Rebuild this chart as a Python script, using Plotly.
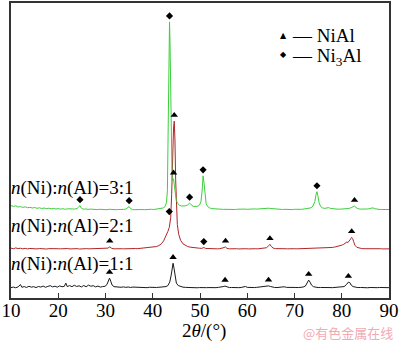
import numpy as np
import plotly.graph_objects as go

# ---- XRD patterns (2theta in degrees, intensity in arbitrary units above each trace's baseline) ----
tt_11 = [10.0, 10.5, 11.0, 11.5, 12.0, 12.3, 12.8, 13.3, 13.8, 14.3, 14.8, 15.3, 15.8, 16.3, 16.8, 17.3,
         17.8, 18.3, 18.8, 19.3, 19.8, 20.3, 20.8, 21.3, 21.6, 21.9, 22.4, 22.9, 23.4, 23.9, 24.4, 24.9,
         25.4, 25.9, 26.4, 26.9, 27.4, 27.9, 28.4, 28.9, 29.4, 29.9, 30.3, 30.6, 30.85, 31.1, 31.4, 31.8,
         32.3, 32.8, 33.3, 33.8, 34.3, 34.8, 35.3, 35.8, 36.3, 36.8, 37.3, 37.8, 38.3, 38.8, 39.3, 39.8,
         40.3, 40.8, 41.3, 41.8, 42.3, 42.8, 43.2, 43.6, 43.9, 44.15, 44.3, 44.5, 44.75, 45.0, 45.4, 45.9,
         46.4, 46.9, 47.4, 47.9, 48.4, 48.9, 49.4, 49.9, 50.4, 50.9, 51.4, 51.9, 52.4, 52.9, 53.4, 53.9,
         54.4, 54.9, 55.3, 55.7, 56.2, 56.7, 57.2, 57.7, 58.2, 58.7, 59.2, 59.6, 60.0, 60.5, 61.0, 61.5,
         62.0, 62.5, 63.0, 63.5, 64.0, 64.5, 64.9, 65.3, 65.8, 66.3, 66.8, 67.3, 67.8, 68.3, 68.8, 69.3,
         69.8, 70.3, 70.8, 71.3, 71.8, 72.3, 72.7, 73.0, 73.3, 73.6, 74.0, 74.5, 75.0, 75.5, 76.0, 76.5,
         77.0, 77.5, 78.0, 78.5, 79.0, 79.5, 80.0, 80.5, 81.0, 81.4, 81.7, 82.0, 82.4, 82.9, 83.4, 84.0,
         84.5, 85.0, 85.5, 86.0, 86.5, 87.0, 87.5, 88.0, 88.5, 89.0, 89.5, 90.0]
int_11 = [0.5, 1.0, 0.3, 1.2, 3.5, 0.8, 1.5, 0.6, 1.8, 0.9, 1.4, 0.5, 1.6, 1.0, 2.0, 0.8,
          1.7, 2.4, 1.2, 1.9, 0.9, 2.2, 1.3, 1.8, 5.0, 1.5, 2.5, 1.4, 2.8, 1.6, 2.3, 1.1,
          2.6, 1.3, 3.0, 1.8, 2.4, 1.2, 2.0, 1.0, 1.5, 1.8, 3.5, 7.5, 10.0, 7.0, 3.0, 1.4,
          1.0, 1.3, 0.8, 1.2, 0.7, 1.1, 0.6, 1.0, 0.9, 0.5, 1.0, 0.6, 0.9, 0.4, 0.8, 0.5,
          0.9, 0.6, 0.8, 1.0, 1.2, 1.5, 2.5, 6.0, 13.0, 22.0, 25.0, 20.0, 10.0, 5.0, 2.5, 1.4,
          0.9, 0.7, 0.5, 0.8, 0.4, 0.6, 0.3, 0.5, 0.3, 0.6, 0.4, 0.5, 0.3, 0.6, 0.4, 0.7,
          0.8, 1.5, 2.0, 1.0, 0.5, 0.6, 0.3, 0.5, 0.4, 0.6, 0.8, 1.6, 0.7, 0.4, 0.6, 0.5,
          0.7, 0.9, 1.2, 1.6, 2.0, 2.2, 1.6, 1.0, 0.6, 0.5, 0.7, 0.6, 1.3, 0.7, 0.5, 0.6,
          0.4, 0.6, 0.5, 0.7, 1.0, 2.0, 5.0, 8.0, 6.0, 3.0, 1.4, 0.7, 0.5, 0.6, 0.4, 0.5,
          0.7, 0.5, 0.4, 0.6, 0.5, 0.7, 0.8, 1.5, 3.5, 6.0, 5.5, 3.0, 1.5, 0.8, 0.5, 0.6,
          0.4, 0.5, 0.3, 0.6, 0.4, 0.5, 0.4, 0.6, 0.5, 0.4, 0.5, 0.4]

tt_21 = [10.0, 10.5, 11.0, 11.5, 12.0, 12.5, 13.0, 13.5, 14.0, 14.5, 15.0, 15.5, 16.0, 16.5, 17.0, 17.5,
         18.0, 18.5, 19.0, 19.5, 20.0, 20.5, 21.0, 21.5, 22.0, 22.5, 23.0, 23.5, 24.0, 24.5, 25.0, 25.5,
         26.0, 26.5, 27.0, 27.5, 28.0, 28.5, 29.0, 29.5, 30.0, 30.5, 30.9, 31.3, 31.8, 32.3, 32.8, 33.3,
         33.8, 34.3, 34.8, 35.3, 35.8, 36.3, 36.8, 37.3, 37.8, 38.3, 38.8, 39.3, 39.8, 40.3, 40.8, 41.3,
         41.8, 42.3, 42.8, 43.2, 43.5, 43.8, 44.0, 44.2, 44.4, 44.55, 44.7, 44.85, 45.0, 45.2, 45.5, 45.9,
         46.4, 46.9, 47.4, 47.9, 48.4, 48.9, 49.4, 49.9, 50.4, 50.8, 51.2, 51.7, 52.2, 52.7, 53.2, 53.7,
         54.2, 54.7, 55.1, 55.4, 55.7, 56.2, 56.7, 57.2, 57.7, 58.2, 58.7, 59.2, 59.7, 60.2, 60.7, 61.2,
         61.7, 62.2, 62.7, 63.2, 63.7, 64.1, 64.5, 64.8, 65.1, 65.5, 66.0, 66.5, 67.0, 67.5, 68.0, 68.5,
         69.0, 69.5, 70.0, 70.5, 71.0, 71.5, 72.0, 72.5, 73.0, 73.5, 74.0, 74.5, 75.0, 75.5, 76.0, 76.5,
         77.0, 77.5, 78.0, 78.5, 79.0, 79.5, 80.0, 80.4, 80.8, 81.1, 81.3, 81.5, 81.7, 81.9, 82.1, 82.3,
         82.5, 82.8, 83.2, 83.7, 84.2, 84.7, 85.2, 85.7, 86.2, 86.7, 87.2, 87.7, 88.2, 88.7, 89.2, 89.7,
         90.0]
int_21 = [1.2, 0.6, 1.4, 0.8, 1.1, 0.5, 1.0, 0.4, 0.9, 0.6, 1.0, 0.4, 0.8, 0.5, 0.9, 0.3,
          0.7, 0.5, 0.8, 0.3, 0.6, 0.5, 0.7, 0.3, 0.8, 0.4, 0.6, 0.5, 0.7, 0.3, 0.6, 0.4,
          0.7, 0.5, 0.6, 0.4, 0.5, 0.7, 0.4, 0.6, 0.5, 1.2, 2.5, 1.0, 0.5, 0.7, 0.4, 0.6,
          0.5, 0.7, 0.6, 0.8, 0.6, 0.8, 0.7, 0.9, 1.0, 1.1, 1.3, 1.5, 1.8, 2.2, 2.8, 3.8,
          5.5, 8.5, 13.0, 18.0, 22.0, 32.0, 55.0, 95.0, 122.0, 129.0, 110.0, 70.0, 42.0, 25.0, 15.0, 9.0,
          5.5, 3.8, 2.8, 2.2, 1.8, 1.5, 1.3, 1.1, 1.0, 1.8, 0.9, 0.7, 0.8, 0.5, 0.7, 0.5,
          0.6, 0.9, 1.8, 2.4, 1.0, 0.5, 0.7, 0.4, 0.6, 0.4, 0.7, 0.5, 0.6, 0.4, 0.7, 0.5,
          0.6, 0.5, 0.7, 0.8, 1.0, 1.6, 3.5, 5.0, 2.8, 1.2, 0.7, 0.5, 0.6, 0.4, 0.6, 0.5,
          0.7, 0.4, 0.6, 0.5, 0.6, 0.4, 0.7, 0.5, 0.6, 0.6, 0.8, 0.7, 0.9, 0.8, 1.0, 1.1,
          1.3, 1.6, 1.9, 2.3, 2.8, 3.4, 4.2, 5.0, 6.5, 7.5, 6.8, 8.5, 9.5, 10.5, 12.0, 11.0,
          8.0, 4.0, 2.0, 1.2, 0.8, 0.6, 0.7, 0.5, 0.6, 0.4, 0.6, 0.5, 0.6, 0.4, 0.5, 0.4,
          0.5]

tt_31 = [10.0, 10.5, 11.0, 11.5, 12.0, 12.5, 13.0, 13.5, 14.0, 14.5, 15.0, 15.5, 16.0, 16.5, 17.0, 17.5,
         18.0, 18.5, 19.0, 19.5, 20.0, 20.5, 21.0, 21.5, 22.0, 22.5, 23.0, 23.5, 24.0, 24.3, 24.6, 24.9,
         25.3, 25.8, 26.3, 26.8, 27.3, 27.8, 28.3, 28.8, 29.3, 29.8, 30.3, 30.8, 31.3, 31.8, 32.3, 32.8,
         33.3, 33.8, 34.3, 34.7, 35.0, 35.3, 35.7, 36.2, 36.7, 37.2, 37.7, 38.2, 38.7, 39.2, 39.7, 40.2,
         40.7, 41.2, 41.7, 42.2, 42.6, 42.9, 43.1, 43.3, 43.45, 43.55, 43.65, 43.8, 43.95, 44.1, 44.25, 44.4,
         44.55, 44.75, 45.0, 45.3, 45.7, 46.1, 46.5, 46.9, 47.3, 47.6, 47.8, 48.0, 48.3, 48.7, 49.1, 49.5,
         49.9, 50.2, 50.45, 50.65, 50.85, 51.05, 51.3, 51.6, 52.0, 52.5, 53.0, 53.5, 54.0, 54.5, 55.0, 55.5,
         56.0, 56.5, 57.0, 57.5, 58.0, 58.5, 59.0, 59.5, 60.0, 60.5, 61.0, 61.5, 62.0, 62.5, 63.0, 63.5,
         64.0, 64.5, 65.0, 65.5, 66.0, 66.5, 67.0, 67.5, 68.0, 68.5, 69.0, 69.5, 70.0, 70.5, 71.0, 71.5,
         72.0, 72.5, 73.0, 73.5, 73.9, 74.3, 74.55, 74.75, 74.95, 75.2, 75.5, 75.9, 76.4, 76.9, 77.2, 77.6,
         78.0, 78.5, 79.0, 79.5, 80.0, 80.5, 81.0, 81.5, 82.0, 82.4, 82.7, 83.0, 83.4, 83.9, 84.4, 84.9,
         85.4, 85.9, 86.3, 86.6, 86.9, 87.4, 87.9, 88.4, 88.9, 89.4, 90.0]
int_31 = [5.0, 4.2, 4.8, 3.6, 4.0, 3.2, 3.8, 2.9, 3.3, 2.6, 3.1, 2.3, 2.8, 2.1, 2.6, 1.9,
          2.4, 1.8, 2.2, 1.6, 2.0, 1.5, 1.9, 1.3, 1.8, 1.4, 1.7, 1.5, 2.2, 3.6, 5.0, 2.4,
          1.4, 1.7, 1.2, 1.5, 1.1, 1.4, 1.0, 1.3, 1.0, 1.2, 0.9, 1.3, 1.0, 1.2, 0.9, 1.1,
          0.9, 1.2, 1.5, 3.0, 4.0, 2.0, 1.1, 0.9, 1.2, 0.8, 1.1, 0.9, 1.2, 1.0, 1.3, 1.1,
          1.4, 1.6, 2.0, 2.6, 4.0, 8.0, 20.0, 80.0, 160.0, 190.0, 170.0, 100.0, 50.0, 30.0, 31.0, 32.0,
          26.0, 15.0, 10.0, 7.0, 5.2, 4.6, 4.4, 4.8, 5.5, 7.0, 7.5, 6.8, 5.0, 4.2, 4.0, 4.3,
          5.5, 9.0, 20.0, 35.0, 28.0, 14.0, 7.0, 4.2, 2.8, 2.0, 1.7, 1.5, 1.3, 1.4, 1.2, 1.3,
          1.1, 1.2, 1.3, 1.1, 1.4, 1.6, 1.3, 1.5, 1.3, 1.6, 1.4, 1.7, 1.5, 1.8, 1.7, 2.0,
          2.2, 2.4, 2.1, 1.8, 1.5, 1.3, 1.2, 1.1, 1.3, 1.0, 1.2, 1.0, 1.3, 1.1, 1.4, 1.3,
          1.6, 1.8, 2.1, 2.8, 4.5, 9.0, 16.0, 19.0, 15.0, 8.0, 4.2, 2.8, 2.2, 2.5, 3.0, 2.2,
          1.8, 1.6, 1.5, 1.4, 1.5, 1.6, 1.8, 2.1, 3.0, 4.2, 4.5, 3.2, 2.0, 1.5, 1.3, 1.4,
          1.6, 2.0, 2.6, 2.8, 2.0, 1.4, 1.2, 1.1, 1.2, 1.0, 1.1]

# stacking offsets of the three patterns
offset_11, offset_21, offset_31 = 10, 49, 88

# indexed phase reflections (2theta) for each sample
nial_11 = [30.85, 44.3, 55.3, 64.5, 73.0, 81.4]
nial_21 = [30.9, 44.55, 55.4, 64.8, 82.1]
ni3al_21 = [43.5, 50.8]
nial_31 = [44.4, 82.7]
ni3al_31 = [24.6, 35.0, 43.55, 47.8, 50.65, 74.75]

sample_labels = ["<i>n</i>(Ni):<i>n</i>(Al)=1:1",
                 "<i>n</i>(Ni):<i>n</i>(Al)=2:1",
                 "<i>n</i>(Ni):<i>n</i>(Al)=3:1"]

SERIF = "Times New Roman, Liberation Serif, serif"
MARK_GAP = 6

fig = go.Figure()

patterns = [
    (tt_11, int_11, offset_11, "#1a1a1a"),
    (tt_21, int_21, offset_21, "#b02525"),
    (tt_31, int_31, offset_31, "#3ccf3c"),
]
for tt, inten, off, col in patterns:
    fig.add_trace(go.Scatter(x=tt, y=np.array(inten) + off, mode="lines",
                             line=dict(color=col, width=1), showlegend=False,
                             hoverinfo="skip"))


def peak_marks(tt, inten, off, positions):
    tt = np.array(tt)
    inten = np.array(inten)
    ys = []
    for p in positions:
        win = np.abs(tt - p) <= 0.3
        ys.append(inten[win].max() + off + MARK_GAP)
    return positions, ys


mark_sets = [
    (tt_11, int_11, offset_11, nial_11, "triangle-up", 6.5),
    (tt_21, int_21, offset_21, nial_21, "triangle-up", 6.5),
    (tt_31, int_31, offset_31, nial_31, "triangle-up", 6.5),
    (tt_21, int_21, offset_21, ni3al_21, "diamond", 5.5),
    (tt_31, int_31, offset_31, ni3al_31, "diamond", 5.5),
]
for tt, inten, off, pos, sym, size in mark_sets:
    mx, my = peak_marks(tt, inten, off, pos)
    fig.add_trace(go.Scatter(x=mx, y=my, mode="markers",
                             marker=dict(symbol=sym, size=size, color="black"),
                             showlegend=False, hoverinfo="skip"))

L, R, T, B = 5, 8, 1, 45
W, H = 400, 343
pw, ph = W - L - R, H - T - B


def px(x):
    return (x - L) / pw


def py(y):
    return (H - B - y) / ph


ann = []
# sample labels
for lab, yc in zip(sample_labels, [263.5, 225.5, 187]):
    ann.append(dict(text=lab, x=px(3), y=py(yc), xref="paper", yref="paper",
                    xanchor="left", yanchor="middle", showarrow=False,
                    font=dict(family=SERIF, size=19, color="black")))
# phase key
ann.append(dict(text="▲", x=px(284), y=py(34), xref="paper", yref="paper",
                xanchor="center", yanchor="middle", showarrow=False,
                font=dict(family="DejaVu Sans", size=8, color="black")))
ann.append(dict(text="◆", x=px(284), y=py(53), xref="paper", yref="paper",
                xanchor="center", yanchor="middle", showarrow=False,
                font=dict(family="DejaVu Sans", size=8, color="black")))
ann.append(dict(text="— NiAl", x=px(291), y=py(34), xref="paper", yref="paper",
                xanchor="left", yanchor="middle", showarrow=False,
                font=dict(family=SERIF, size=19, color="black")))
ann.append(dict(text="— Ni<sub>3</sub>Al", x=px(291), y=py(55), xref="paper", yref="paper",
                xanchor="left", yanchor="middle", showarrow=False,
                font=dict(family=SERIF, size=19, color="black")))
# axis title
ann.append(dict(text="2<i>θ</i>/(°)", x=px(203), y=py(331), xref="paper", yref="paper",
                xanchor="center", yanchor="middle", showarrow=False,
                font=dict(family=SERIF, size=19, color="black")))
# source mark
ann.append(dict(text="@有色金属在线", x=px(398), y=py(333), xref="paper", yref="paper",
                xanchor="right", yanchor="middle", showarrow=False,
                font=dict(family="Noto Sans CJK SC", size=13, color="#f2aab2")))

fig.update_layout(
    width=W, height=H,
    margin=dict(l=L, r=R, t=T, b=B),
    paper_bgcolor="white", plot_bgcolor="white",
    annotations=ann,
    font=dict(family=SERIF, size=19, color="black"),
)
fig.update_xaxes(range=[10, 90], tick0=10, dtick=10, ticks="inside", ticklen=5,
                 tickcolor="#333", tickwidth=1, showline=True, linecolor="#333",
                 linewidth=1.5, mirror=True, showgrid=False, zeroline=False,
                 ticklabeloverflow="allow", ticklabelstandoff=-6,
                 tickfont=dict(family=SERIF, size=19, color="black"))
fig.update_yaxes(range=[0, ph], showticklabels=False, ticks="", showline=True,
                 linecolor="#333", linewidth=1.5, mirror=True, showgrid=False,
                 zeroline=False)

fig.write_html("out.html")
